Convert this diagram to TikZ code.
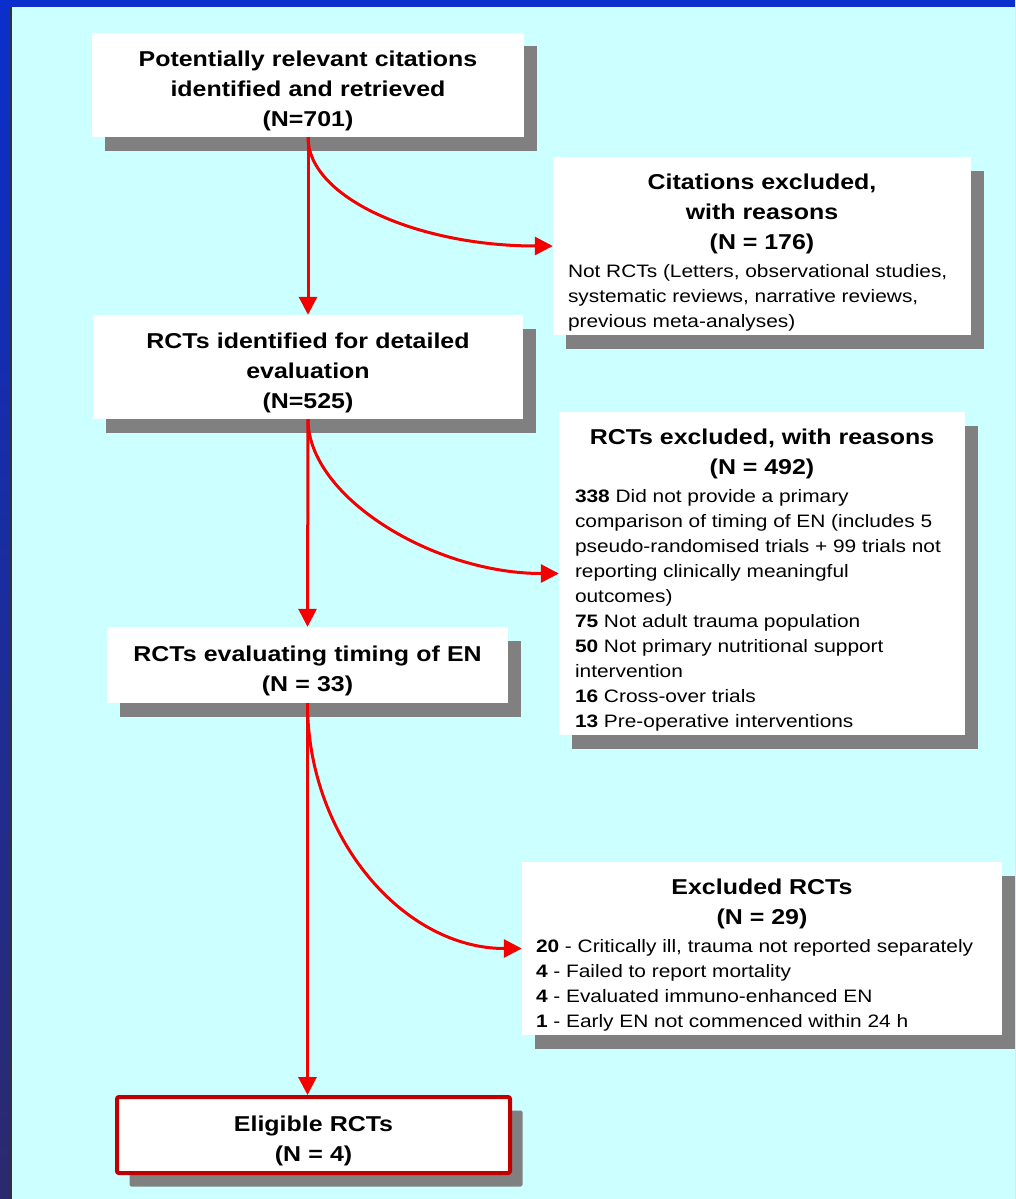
\documentclass[tikz,border=0pt]{standalone}
\usepackage{fontspec}
\setmainfont{Liberation Sans}[FakeStretch=1.16]
\usetikzlibrary{arrows.meta,shadows}
\definecolor{bgcyan}{HTML}{CCFFFF}
\definecolor{bluetop}{HTML}{0A2FCC}
\definecolor{navybot}{HTML}{2C2A6E}
\definecolor{darkline}{HTML}{303040}
\definecolor{shadowgray}{HTML}{808080}
\definecolor{arrred}{HTML}{F50000}
\definecolor{eligred}{HTML}{C00000}
\newcommand\ttlfont{\fontsize{21.5}{30}\selectfont\bfseries\spaceskip=0.32em\xspaceskip=0.32em\relax}
\newcommand\bdyfont{\fontsize{18}{25}\selectfont\mdseries\spaceskip=0.32em\xspaceskip=0.32em\relax}
\begin{document}
\begin{tikzpicture}[x=1pt,y=-1pt,
  box/.style={rectangle, fill=white, inner sep=0pt,
    execute at begin node={\vskip -2pt},
    drop shadow={shadow xshift=12.5pt, shadow yshift=-13.5pt, fill=shadowgray, opacity=1}},
  simplebox/.style={box, align=center, font=\ttlfont},
  arr/.style={draw=arrred, line width=3pt, -{Triangle[length=18pt,width=18pt]}}]
\useasboundingbox (0,0) rectangle (1015,1199);
\shade[top color=bluetop, bottom color=navybot] (0,0) rectangle (1015,1199);
\fill[bluetop] (0,0) rectangle (1015,7);
\fill[darkline] (10,7) rectangle (12,1199);
\fill[bgcyan] (12,7) rectangle (1015,1199);

\node[simplebox, minimum width=432pt, minimum height=104pt, text width=410pt] (B1) at (308,85)
  {Potentially relevant citations\\ identified and retrieved\\ (N=701)};

\node[box, minimum width=418pt, minimum height=178pt, text width=388pt, inner xsep=15pt] (B2) at (762,246)
  {{\ttlfont\centering Citations excluded,\\ with reasons\\ (N = 176)\par}\vskip 3pt
   {\bdyfont\raggedright
   \mbox{Not RCTs (Letters, observational studies,}\\
   \mbox{systematic reviews, narrative reviews,}\\
   \mbox{previous meta-analyses)}\par}};

\node[simplebox, minimum width=430pt, minimum height=104pt, text width=410pt] (B3) at (308,367)
  {RCTs identified for detailed\\ evaluation\\ (N=525)};

\node[box, minimum width=406pt, minimum height=323pt, text width=374pt, inner xsep=16pt] (B4) at (762,573.5)
  {{\ttlfont\centering RCTs excluded, with reasons\\ (N = 492)\par}\vskip 3pt
   {\bdyfont\raggedright
   \mbox{\textbf{338} Did not provide a primary}\\
   \mbox{comparison of timing of EN (includes 5}\\
   \mbox{pseudo-randomised trials + 99 trials not}\\
   \mbox{reporting clinically meaningful}\\
   \mbox{outcomes)}\\
   \mbox{\textbf{75} Not adult trauma population}\\
   \mbox{\textbf{50} Not primary nutritional support}\\
   \mbox{intervention}\\
   \mbox{\textbf{16} Cross-over trials}\\
   \mbox{\textbf{13} Pre-operative interventions}\par}};

\node[simplebox, minimum width=401pt, minimum height=76pt, text width=390pt] (B5) at (307.5,665)
  {RCTs evaluating timing of EN\\ (N = 33)};

\node[box, minimum width=480pt, minimum height=173pt, text width=452pt, inner xsep=14pt] (B6) at (762,948.5)
  {{\ttlfont\centering Excluded RCTs\\ (N = 29)\par}\vskip 3pt
   {\bdyfont\raggedright
   \mbox{\textbf{20} - Critically ill, trauma not reported separately}\\
   \mbox{\textbf{4} - Failed to report mortality}\\
   \mbox{\textbf{4} - Evaluated immuno-enhanced EN}\\
   \mbox{\textbf{1} - Early EN not commenced within 24 h}\par}};

\node[simplebox, draw=eligred, line width=4pt, rounded corners=2pt,
      minimum width=393pt, minimum height=76pt, text width=370pt] (B7) at (313.5,1135)
  {Eligible RCTs\hspace*{11pt}\\ (N = 4)\hspace*{11pt}};

\draw[arr] (B1.south) -- (B3.north);
\draw[arr] (B1.south) .. controls +(0,61) and +(-134,0) .. (B2.west);
\draw[arr] (B3.south) -- (B5.north);
\draw[arr] (B3.south) .. controls +(0,78) and +(-125,0) .. (B4.west);
\draw[arr] (B5.south) -- (B5.south |- B7.north);
\draw[arr] (B5.south) .. controls +(0,135) and +(-118,0) .. (B6.west);
\end{tikzpicture}
\end{document}
